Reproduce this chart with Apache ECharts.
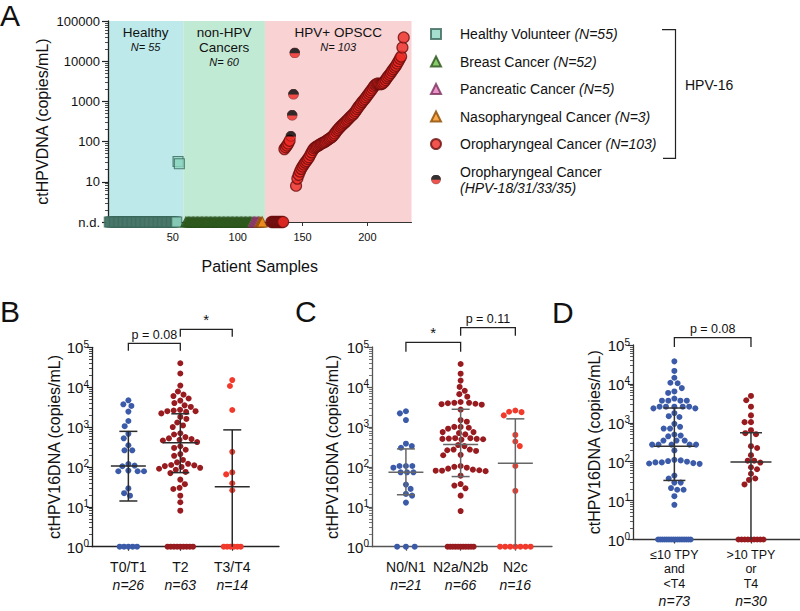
<!DOCTYPE html>
<html>
<head>
<meta charset="utf-8">
<title>ctHPVDNA</title>
<script src="https://cdn.jsdelivr.net/npm/echarts@6.0.0/dist/echarts.min.js"></script>
<style>
html,body{margin:0;padding:0;background:#ffffff;}
#chart{width:800px;height:611px;}
</style>
</head>
<body>
<div id="chart"></div>
<script>
// ================= DATA =================
// ---- Panel A ----
const regionNames = ['Healthy', 'non-HPV\nCancers', 'HPV+ OPSCC'];
const regionCounts = ['N= 55', 'N= 60', 'N= 103'];
const regionBounds = [0, 58, 121, 234];
const aXTickValues = [50, 100, 150, 200];

const legendNames = ['Healthy Volunteer', 'Breast Cancer', 'Pancreatic Cancer', 'Nasopharyngeal Cancer', 'Oropharyngeal Cancer', 'Oropharyngeal Cancer (other)'];
const legendTexts = ['Healthy Volunteer', 'Breast Cancer', 'Pancreatic Cancer', 'Nasopharyngeal Cancer', 'Oropharyngeal Cancer', 'Oropharyngeal Cancer\n'];
const legendCounts = ['(N=55)', '(N=52)', '(N=5)', '(N=3)', '(N=103)', '(HPV-18/31/33/35)'];

// value 1 = not detected (n.d.)
const healthyValues = [1,1,1,1,1,1,1,1,1,1, 1,1,1,1,1,1,1,1,1,1, 1,1,1,1,1,1,1,1,1,1, 1,1,1,1,1,1,1,1,1,1, 1,1,1,1,1,1,1,1,1,1, 1,1,1, 32,28];
const breastValues = [1,1,1,1,1,1,1,1,1,1, 1,1,1,1,1,1,1,1,1,1, 1,1,1,1,1,1,1,1,1,1, 1,1,1,1,1,1,1,1,1,1, 1,1,1,1,1,1,1,1,1,1, 1,1];
const pancreaticValues = [1,1,1,1,1];
const nasoValues = [1,1,1];
const opsccValues = [
  1,1,1,1,1,1,1,1,1,1,
  65,72,80,90,105,
  135,450,1500,16000,
  8,12,15,18,21,24,27,30,33,37,
  41,47,54,62,68,72,76,79,83,87,
  91,94,98,102,108,114,120,126,133,145,
  160,178,195,212,230,248,265,285,305,330,
  355,385,415,445,475,520,580,650,720,790,
  870,960,1050,1150,1270,1400,1550,1720,1900,2100,
  2350,2550,2700,2800,2700,2680,2700,2850,3100,3400,
  3800,4200,4600,5100,5700,6300,7000,7700,8800,10000,
  11500,13000,22000,39000
];
const opsccOtherGenotype = [15,16,17,18];          // indices of HPV-18/31/33/35 samples
const sampleStart = [1, 60, 112, 117, 126];       // first patient-sample number per group

// ---- Panel B ----
const bCategories = ['T0/T1', 'T2', 'T3/T4'];
const bCounts = ['n=26', 'n=63', 'n=14'];
const bT0T1 = [4680,3720,3380,2440,1420,1050,675,522,350,261,261,118,108,104,81,78,78,78,29,22,19,1,1,1,1,1];
const bT2 = [39800,22000,11000,7800,6500,6000,5200,4600,4000,3500,3200,2700,2600,2500,2500,2400,2200,1800,1600,1300,1100,1000,700,650,560,520,500,480,460,420,330,300,270,210,190,150,130,120,112,110,105,100,95,90,85,75,70,48,37,30,28,19,13,8,1,1,1,1,1,1,1,1,1];
const bT3T4 = [15100,10700,2680,240,73,65,39,26,1,1,1,1,1,1];
const bMedian = [105, 405, 32];
const bQ1 = [14, 72, 1];
const bQ3 = [780, 2150, 850];
const bComparisons = [[1, 2, 'p = 0.08'], [2, 3, '*']];

// ---- Panel C ----
const cCategories = ['N0/N1', 'N2a/N2b', 'N2c'];
const cCounts = ['n=21', 'n=66', 'n=16'];
const cN0N1 = [2460,2180,1480,380,330,300,105,105,105,95,73,73,73,36,28,21,19,12.7,1,1,1];
const cN2ab = [37500,21500,14400,10000,8000,6600,5700,4200,4000,4000,3900,3800,3700,3600,2700,1480,1350,1000,1000,950,900,740,740,700,650,520,520,510,500,500,490,480,350,330,270,270,260,250,200,195,105,100,95,90,85,82,80,80,78,60,37,34,29,19,7.8,1,1,1,1,1,1,1,1,1,1,1];
const cN2c = [2570,2390,2340,1940,630,430,330,105,25,1,1,1,1,1,1,1];
const cMedian = [73, 360, 123];
const cQ1 = [20, 57, 1];
const cQ3 = [281, 2760, 1590];
const cComparisons = [[1, 2, '*'], [2, 3, 'p = 0.11']];

// ---- Panel D ----
const dCategories = ['\u226410 TPY\nand\n<T4', '>10 TPY\nor\nT4'];
const dCounts = ['n=73', 'n=30'];
const dLow = [38000,21500,14400,10700,10400,7800,6400,5850,4200,3700,3700,3700,3700,2600,2600,2600,2600,2600,2350,2350,1780,1480,1410,940,790,710,710,500,470,450,350,350,350,275,275,275,275,275,195,112,108,104,100,96,96,92,90,88,44,37,29,29,21,19,19,13,7.8,1,1,1,1,1,1,1,1,1,1,1,1,1,1,1,1];
const dHigh = [4900,3800,2600,1550,1040,1040,645,540,510,250,225,147,106,106,95,72,64,49,37,34,26,1,1,1,1,1,1,1,1,1];
const dMedian = [251, 98];
const dQ1 = [33, 1];
const dQ3 = [2400, 555];
const dComparisons = [[1, 2, 'p = 0.08']];

// ================= STYLE / LAYOUT =================
const FONT = '"Liberation Sans", Arial, Helvetica, sans-serif';
const INK = '#111111';
const BLUE = '#3b5ba9', DARKRED = '#971b1f', BRIGHTRED = '#f23a2c';
const regionColors = ['#bde9ea', '#c1ead5', '#f9d2d3'];

const halfSvg = "<svg xmlns='http://www.w3.org/2000/svg' width='24' height='24' viewBox='0 0 24 24'>" +
  "<circle cx='12' cy='12' r='11' fill='#ee2a24' stroke='#5a0a0a' stroke-width='1.2'/>" +
  "<path d='M1,12 A11,11 0 0 1 23,12 Z' fill='#000000' stroke='#000000' stroke-width='1'/></svg>";
const halfIcon = 'image://data:image/svg+xml;charset=utf-8,' + encodeURIComponent(halfSvg);

const panelLayout = {
  B: {grid: 1, xmin: 0.3, xmax: 3.9, axis: '#222', bar: '#2b2b2b', medHalf: 17.5, capHalf: 9,
      ndHalf: [8.7, 12.7, 8.5], nameGap: 30,
      brackets: [{lift: 4, arm: 7.4, size: 12.5}, {lift: 18, arm: 7.4, size: 15}]},
  C: {grid: 2, xmin: 0.38, xmax: 3.67, axis: '#555', bar: '#666', medHalf: 17.5, capHalf: 9,
      ndHalf: [8.8, 13, 15.3], nameGap: 32,
      brackets: [{lift: 4.7, arm: 9.4, size: 15}, {lift: 19.3, arm: 8, size: 12.5}]},
  D: {grid: 3, xmin: 0.46, xmax: 2.64, axis: '#333', bar: '#333', medHalf: 20.5, capHalf: 11,
      ndHalf: [16.3, 12.5], nameGap: 31,
      brackets: [{lift: 7.3, arm: 9.3, size: 12.5}]}
};
const DOT = 6, DMIN = 6.4;

// ================= HELPERS =================
// stacked markers (same value, adjacent sample) look darker, as in the reference
function seq(vals, start, stackedColor) {
  return vals.map((v, i) => {
    const item = {value: [start + i, v]};
    if (stackedColor && i + 1 < vals.length && vals[i + 1] === v) item.itemStyle = {color: stackedColor};
    return item;
  });
}

function supLabel(v) { return '{b|10}{s|' + Math.round(Math.log10(v)) + '}'; }

function logYAxis(gridIndex, color, nameGap) {
  return {
    type: 'log', logBase: 10, gridIndex, min: 1, max: 100000, z: 2,
    name: 'ctHPV16DNA (copies/mL)', nameLocation: 'middle', nameGap,
    nameTextStyle: {fontFamily: FONT, fontSize: 16, color: INK},
    axisLine: {show: true, lineStyle: {color, width: 1.3}},
    axisTick: {show: true, length: 5, lineStyle: {color, width: 1.2}},
    minorTick: {show: true, splitNumber: 9, length: 3, lineStyle: {color, width: 0.8}},
    splitLine: {show: false},
    axisLabel: {
      margin: 3, formatter: supLabel,
      rich: {
        b: {fontFamily: FONT, fontSize: 15, color: INK, lineHeight: 16, verticalAlign: 'bottom'},
        s: {fontFamily: FONT, fontSize: 10, color: INK, lineHeight: 10, verticalAlign: 'top', padding: [0, 0, 9, 0]}
      }
    }
  };
}

function catXAxis(gridIndex, L, cats, counts, multi) {
  return {
    type: 'value', gridIndex, min: L.xmin, max: L.xmax, z: 2,
    axisLine: {show: true, onZero: false, lineStyle: {color: L.axis, width: 1.3}},
    axisTick: {show: true, length: 4, customValues: cats.map((c, i) => i + 1), lineStyle: {color: L.axis, width: 1.2}},
    splitLine: {show: false},
    axisLabel: {
      customValues: cats.map((c, i) => i + 1),
      margin: multi ? 8 : 11,
      fontFamily: FONT, fontSize: multi ? 12.5 : 14, color: INK, lineHeight: multi ? 14.5 : 18,
      formatter: v => { const i = Math.round(v) - 1; return cats[i] + '\n{i|' + counts[i] + '}'; },
      rich: {i: {fontFamily: FONT, fontSize: 14, fontStyle: 'italic', color: INK, lineHeight: multi ? 20 : 18}}
    }
  };
}

function errorBarSeries(L, med, q1, q3) {
  return {
    type: 'custom', xAxisIndex: L.grid, yAxisIndex: L.grid, z: 4, silent: true,
    data: med.map((m, i) => [i + 1, q1[i], m, q3[i]]),
    renderItem: (params, api) => {
      const x = api.value(0);
      const pm = api.coord([x, api.value(2)]);
      const pl = api.coord([x, api.value(1)]);
      const pu = api.coord([x, api.value(3)]);
      const st = {stroke: L.bar, lineWidth: 1.5};
      const ch = [
        {type: 'line', shape: {x1: pm[0], y1: pl[1], x2: pm[0], y2: pu[1]}, style: st},
        {type: 'line', shape: {x1: pm[0] - L.medHalf, y1: pm[1], x2: pm[0] + L.medHalf, y2: pm[1]}, style: st},
        {type: 'line', shape: {x1: pm[0] - L.capHalf, y1: pu[1], x2: pm[0] + L.capHalf, y2: pu[1]}, style: st}
      ];
      if (api.value(1) > 1) ch.push({type: 'line', shape: {x1: pm[0] - L.capHalf, y1: pl[1], x2: pm[0] + L.capHalf, y2: pl[1]}, style: st});
      return {type: 'group', children: ch};
    }
  };
}

function bracketSeries(L, comps) {
  return {
    type: 'custom', xAxisIndex: L.grid, yAxisIndex: L.grid, z: 5, silent: true, clip: false,
    data: comps.map(c => [c[0], c[1]]),
    renderItem: (params, api) => {
      const i = params.dataIndex, B = L.brackets[i];
      const a = api.coord([api.value(0), 100000]);
      const b = api.coord([api.value(1), 100000]);
      const yTop = a[1] - B.lift;
      return {type: 'group', children: [
        {type: 'polyline', shape: {points: [[a[0], yTop + B.arm], [a[0], yTop], [b[0], yTop], [b[0], yTop + B.arm]]},
         style: {stroke: '#222', lineWidth: 1.3, fill: null}},
        {type: 'text', style: {text: comps[i][2], x: (a[0] + b[0]) / 2, y: yTop - 2,
          align: 'center', verticalAlign: 'bottom', textAlign: 'center', textVerticalAlign: 'bottom',
          fontSize: B.size, fontFamily: FONT, fill: INK}}
      ]};
    }
  };
}

function dotSeries(id, L, vals, g, color) {
  return {
    id, type: 'scatter', xAxisIndex: L.grid, yAxisIndex: L.grid, z: 3, silent: true,
    symbol: 'circle', symbolSize: DOT, itemStyle: {color, opacity: 1},
    data: vals.map(v => [g + 1, v])
  };
}

// ================= PANEL A SERIES =================
const aAll = [
  seq(healthyValues, sampleStart[0], '#5f8f80'),
  seq(breastValues, sampleStart[1], '#3f6e2b'),
  seq(pancreaticValues, sampleStart[2], '#b0578c'),
  seq(nasoValues, sampleStart[3], '#c0701a'),
  seq(opsccValues, sampleStart[4], '#8c1a1a')
];
const opscc16 = aAll[4].filter((p, i) => opsccOtherGenotype.indexOf(i) < 0);
const opsccOther = aAll[4].filter((p, i) => opsccOtherGenotype.indexOf(i) >= 0);

const aBase = {type: 'scatter', xAxisIndex: 0, yAxisIndex: 0, z: 3, silent: true};
const aSeries = [
  {type: 'scatter', xAxisIndex: 0, yAxisIndex: 0, z: 1, silent: true, data: [],
   markArea: {
     silent: true, z: 1,
     label: {show: true, position: 'insideTop', distance: 4, color: INK, fontFamily: FONT, fontSize: 13.5, lineHeight: 15,
             rich: {i: {fontFamily: FONT, fontSize: 11, fontStyle: 'italic', lineHeight: 14, color: INK}}},
     data: regionNames.map((nm, i) => [
       {name: nm + '\n{i|' + regionCounts[i] + '}', xAxis: regionBounds[i], itemStyle: {color: regionColors[i], opacity: 1, borderWidth: 0}},
       {xAxis: regionBounds[i + 1]}
     ])
   }},
  Object.assign({}, aBase, {name: legendNames[0], symbol: 'rect', symbolSize: 10, data: aAll[0],
    itemStyle: {color: '#8fd6c2', borderColor: '#3a665a', borderWidth: 1.1}}),
  Object.assign({}, aBase, {name: legendNames[1], symbol: 'triangle', symbolSize: 10, data: aAll[1],
    itemStyle: {color: '#6cbd45', borderColor: '#28501a', borderWidth: 1.1}}),
  Object.assign({}, aBase, {name: legendNames[2], symbol: 'triangle', symbolSize: 10, data: aAll[2],
    itemStyle: {color: '#e37bbb', borderColor: '#7a2d5a', borderWidth: 1.1}}),
  Object.assign({}, aBase, {name: legendNames[3], symbol: 'triangle', symbolSize: 10, data: aAll[3],
    itemStyle: {color: '#f7941d', borderColor: '#8a4a00', borderWidth: 1.1}}),
  Object.assign({}, aBase, {name: legendNames[4], symbol: 'circle', symbolSize: 11, data: opscc16,
    itemStyle: {color: '#ee2a24', borderColor: '#6a0c0c', borderWidth: 1.2}}),
  Object.assign({}, aBase, {name: legendNames[5], symbol: halfIcon, symbolSize: 11, data: opsccOther,
    itemStyle: {color: '#ee2a24'}})
];

// ================= OPTION =================
const LB = panelLayout.B, LC = panelLayout.C, LD = panelLayout.D;

const option = {
  backgroundColor: '#ffffff',
  animation: false,
  textStyle: {fontFamily: FONT},
  grid: [
    {left: 108, top: 21, width: 303.5, height: 201},
    {left: 92, top: 347.3, width: 187, height: 199.4},
    {left: 372, top: 347, width: 180, height: 199.7},
    {left: 633, top: 345, width: 167, height: 200}
  ],
  legend: {
    orient: 'vertical', left: 430, top: 26, padding: 0, itemGap: 11.5,
    itemWidth: 10, itemHeight: 10, selectedMode: false,
    data: legendNames,
    formatter: name => { const i = legendNames.indexOf(name); return legendTexts[i] + (i < 5 ? ' ' : '') + '{i|' + legendCounts[i] + '}'; },
    textStyle: {fontFamily: FONT, fontSize: 14, color: INK, lineHeight: 16, padding: [0, 0, 0, 14],
      rich: {i: {fontFamily: FONT, fontSize: 14, fontStyle: 'italic', color: INK, lineHeight: 16}}}
  },
  xAxis: [
    {type: 'value', gridIndex: 0, min: 0, max: 234, z: 2,
     name: 'Patient Samples', nameLocation: 'middle', nameGap: 36,
     nameTextStyle: {fontFamily: FONT, fontSize: 16, color: INK},
     axisLine: {show: true, onZero: false, lineStyle: {color: '#333', width: 1.2}},
     axisTick: {show: true, length: 4, customValues: aXTickValues, lineStyle: {color: '#333'}},
     axisLabel: {customValues: aXTickValues, fontFamily: FONT, fontSize: 11, color: INK, margin: 9},
     splitLine: {show: false}},
    catXAxis(1, LB, bCategories, bCounts, false),
    catXAxis(2, LC, cCategories, cCounts, false),
    catXAxis(3, LD, dCategories, dCounts, true)
  ],
  yAxis: [
    {type: 'log', logBase: 10, gridIndex: 0, min: 1, max: 100000, z: 2,
     name: 'ctHPVDNA (copies/mL)', nameLocation: 'middle', nameGap: 58,
     nameTextStyle: {fontFamily: FONT, fontSize: 16, color: INK},
     axisLine: {show: true, lineStyle: {color: '#222', width: 1.3}},
     axisTick: {show: true, length: 6, lineStyle: {color: '#222', width: 1.2}},
     minorTick: {show: true, splitNumber: 9, length: 3, lineStyle: {color: '#222', width: 0.8}},
     splitLine: {show: false},
     axisLabel: {fontFamily: FONT, fontSize: 13, color: INK, margin: 8,
       formatter: v => (Math.round(v) <= 1 ? 'n.d.' : String(Math.round(v)))}},
    logYAxis(1, LB.axis, LB.nameGap),
    logYAxis(2, LC.axis, LC.nameGap),
    logYAxis(3, LD.axis, LD.nameGap)
  ],
  series: aSeries.concat([
    dotSeries('B0', LB, bT0T1, 0, BLUE),
    dotSeries('B1', LB, bT2, 1, DARKRED),
    dotSeries('B2', LB, bT3T4, 2, BRIGHTRED),
    errorBarSeries(LB, bMedian, bQ1, bQ3),
    bracketSeries(LB, bComparisons),
    dotSeries('C0', LC, cN0N1, 0, BLUE),
    dotSeries('C1', LC, cN2ab, 1, DARKRED),
    dotSeries('C2', LC, cN2c, 2, BRIGHTRED),
    errorBarSeries(LC, cMedian, cQ1, cQ3),
    bracketSeries(LC, cComparisons),
    dotSeries('D0', LD, dLow, 0, BLUE),
    dotSeries('D1', LD, dHigh, 1, DARKRED),
    errorBarSeries(LD, dMedian, dQ1, dQ3),
    bracketSeries(LD, dComparisons)
  ]),
  graphic: [
    {type: 'text', x: 0, y: 15, style: {text: 'A', fontFamily: FONT, fontSize: 30, fill: INK, verticalAlign: 'middle'}},
    {type: 'text', x: 0, y: 311, style: {text: 'B', fontFamily: FONT, fontSize: 30, fill: INK, verticalAlign: 'middle'}},
    {type: 'text', x: 295, y: 311.5, style: {text: 'C', fontFamily: FONT, fontSize: 30, fill: INK, verticalAlign: 'middle'}},
    {type: 'text', x: 552, y: 312.5, style: {text: 'D', fontFamily: FONT, fontSize: 30, fill: INK, verticalAlign: 'middle'}},
    {type: 'polyline', shape: {points: [[662, 29.7], [675.5, 29.7], [675.5, 158.3], [663, 158.3]]},
     style: {stroke: '#222', lineWidth: 1.2, fill: null}},
    {type: 'text', x: 685, y: 85, style: {text: 'HPV-16', fontFamily: FONT, fontSize: 14, fill: INK, verticalAlign: 'middle'}}
  ]
};

const chart = echarts.init(document.getElementById('chart'), null, {renderer: 'svg', width: 800, height: 611});
chart.setOption(option);

// ================= BEESWARM LAYOUT (pixel space via the chart's own scales) =================
function swarm(vals, ys, dMin, ndHalf) {
  const n = vals.length, off = new Array(n).fill(0);
  const nd = [], rest = [];
  vals.forEach((v, i) => (v <= 1 ? nd : rest).push(i));
  const k = nd.length;
  nd.forEach((i, j) => { off[i] = k > 1 ? -ndHalf + j * (2 * ndHalf / (k - 1)) : 0; });
  rest.sort((a, b) => ys[a] - ys[b]);
  const placed = [];
  rest.forEach((i, step) => {
    const y = ys[i];
    const near = placed.filter(p => Math.abs(p.y - y) < dMin);
    const cands = [0];
    near.forEach(p => { const dx = Math.sqrt(dMin * dMin - (p.y - y) * (p.y - y)); cands.push(p.x + dx, p.x - dx); });
    const ok = cands.filter(c => near.every(p => (p.x - c) * (p.x - c) + (p.y - y) * (p.y - y) >= dMin * dMin - 1e-6));
    ok.sort((a, b) => {
      const da = Math.abs(a) - Math.abs(b);
      if (Math.abs(da) > 1e-6) return da;
      return (step % 2) ? a - b : b - a;
    });
    off[i] = ok[0];
    placed.push({x: ok[0], y});
  });
  return off;
}

const swarmDefs = [
  {L: LB, id: 'B', groups: [bT0T1, bT2, bT3T4]},
  {L: LC, id: 'C', groups: [cN0N1, cN2ab, cN2c]},
  {L: LD, id: 'D', groups: [dLow, dHigh]}
];
const updates = [];
swarmDefs.forEach(def => {
  def.groups.forEach((vals, g) => {
    const cx = g + 1;
    const p0 = chart.convertToPixel({gridIndex: def.L.grid}, [cx, 10]);
    const p1 = chart.convertToPixel({gridIndex: def.L.grid}, [cx + 1, 10]);
    const unit = p1[0] - p0[0];
    const ys = vals.map(v => chart.convertToPixel({gridIndex: def.L.grid}, [cx, v])[1]);
    const offs = swarm(vals, ys, DMIN, def.L.ndHalf[g]);
    updates.push({id: def.id + g, data: vals.map((v, i) => [cx + offs[i] / unit, v])});
  });
});
chart.setOption({series: updates});
</script>
</body>
</html>
